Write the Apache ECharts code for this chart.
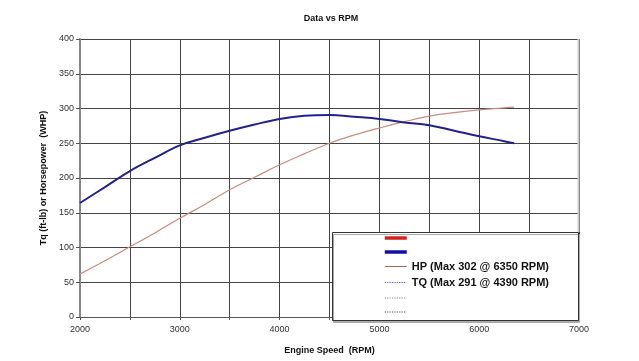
<!DOCTYPE html>
<html>
<head>
<meta charset="utf-8">
<script src="https://cdn.jsdelivr.net/npm/echarts@6/dist/echarts.min.js"></script>
<style>
  html, body { margin: 0; padding: 0; background: #fff; }
  #chart { width: 639px; height: 361px; }
</style>
</head>
<body>
<div id="chart"></div>
<script>
// engine speed samples (RPM)
const rpm = [2000, 2250, 2500, 2750, 3000, 3250, 3500, 3750, 4000, 4250, 4500, 4750, 5000, 5250, 5500, 5750, 6000, 6250, 6350];
// horsepower (WHP)
const hp = [62, 81, 101, 121, 142, 162, 183, 201, 219, 235, 250, 262, 272, 281, 289, 294, 298, 301, 302];
// torque (ft-lb)
const tq = [164, 187, 210, 229, 247, 258, 268, 277, 285, 289.5, 290.5, 288, 285, 280, 276, 268, 260, 253, 250];
const legendNames = ['_a', '_b', 'HP (Max 302 @ 6350 RPM)', 'TQ (Max 291 @ 4390 RPM)', '_c', '_d'];

const chart = echarts.init(document.getElementById('chart'));
const font = "'Liberation Sans', Arial, sans-serif";
const pairs = (ys) => rpm.map((x, i) => [x, ys[i]]);
const hidden = { opacity: 0 };

const option = {
  animation: false,
  backgroundColor: '#fff',
  title: {
    text: 'Data vs RPM',
    left: 326, top: 9, textAlign: 'center',
    textStyle: { fontFamily: font, fontSize: 9, fontWeight: 'bold', color: '#111' }
  },
  grid: { left: 80, right: 60, top: 39, bottom: 44 },
  xAxis: {
    type: 'value', min: 2000, max: 7000, interval: 500,
    name: 'Engine Speed  (RPM)', nameLocation: 'middle', nameGap: 29,
    nameTextStyle: { fontFamily: font, fontSize: 9, fontWeight: 'bold', color: '#111' },
    axisLine: { lineStyle: { color: '#555', width: 1 } },
    axisTick: { show: true, length: 3, lineStyle: { color: '#555' } },
    axisLabel: {
      fontFamily: font, fontSize: 9, color: '#333', margin: 8,
      formatter: (v) => (v % 1000 === 0 ? String(v) : '')
    },
    splitLine: { show: true, lineStyle: { color: '#444', width: 1 } }
  },
  yAxis: {
    type: 'value', min: 0, max: 400, interval: 50,
    name: 'Tq (ft-lb) or Horsepower  (WHP)', nameLocation: 'middle', nameGap: 30,
    nameTextStyle: { fontFamily: font, fontSize: 9, fontWeight: 'bold', color: '#111' },
    axisLine: { show: true, lineStyle: { color: '#888', width: 2 } },
    axisTick: { show: true, length: 4, lineStyle: { color: '#555' } },
    axisLabel: { fontFamily: font, fontSize: 9, color: '#333', margin: 6 },
    splitLine: { show: true, lineStyle: { color: '#444', width: 1 } }
  },
  graphic: [
    { type: 'rect', z: 3, shape: { x: 0, y: 0, width: 246, height: 88 }, left: 332, top: 232,
      style: { fill: '#fff', stroke: '#333', lineWidth: 1, shadowColor: '#aaa', shadowOffsetX: 1, shadowOffsetY: 2 } },
    { type: 'line', z: 3, shape: { x1: 578.5, y1: 39, x2: 578.5, y2: 232 },
      style: { stroke: '#ccc', lineWidth: 2 } }
  ],
  legend: {
    orient: 'vertical', left: 383, top: 233, z: 5,
    padding: 0, itemWidth: 22, itemHeight: 10, itemGap: 5,
    textStyle: { fontFamily: font, fontSize: 11, fontWeight: 'bold', color: '#111' },
    formatter: (name) => (name.charAt(0) === '_' ? '' : name),
    data: [
      { name: legendNames[0], itemStyle: hidden, lineStyle: { color: '#d42020', width: 3.5 } },
      { name: legendNames[1], itemStyle: hidden, lineStyle: { color: '#1010a0', width: 3.5 } },
      { name: legendNames[2], itemStyle: hidden, lineStyle: { color: '#a06858', width: 1 } },
      { name: legendNames[3], itemStyle: hidden, lineStyle: { color: '#5a5ac8', width: 1.2, type: 'dotted' } },
      { name: legendNames[4], itemStyle: hidden, lineStyle: { color: '#a08868', width: 1.2, type: 'dotted' } },
      { name: legendNames[5], itemStyle: hidden, lineStyle: { color: '#555', width: 1.2, type: 'dotted' } }
    ]
  },
  series: [
    { name: legendNames[0], type: 'line', symbol: 'none', data: [], lineStyle: { color: '#d42020', width: 3 } },
    { name: legendNames[1], type: 'line', symbol: 'none', data: [], lineStyle: { color: '#1010a0', width: 3 } },
    { name: legendNames[2], type: 'line', symbol: 'none', smooth: 0.4, data: pairs(hp),
      lineStyle: { color: '#c88c80', width: 1.2 } },
    { name: legendNames[3], type: 'line', symbol: 'none', smooth: 0.4, data: pairs(tq),
      lineStyle: { color: '#22228c', width: 2 } },
    { name: legendNames[4], type: 'line', symbol: 'none', data: [], lineStyle: { color: '#a08868', width: 1 } },
    { name: legendNames[5], type: 'line', symbol: 'none', data: [], lineStyle: { color: '#555', width: 1 } }
  ]
};
chart.setOption(option);
</script>
</body>
</html>
